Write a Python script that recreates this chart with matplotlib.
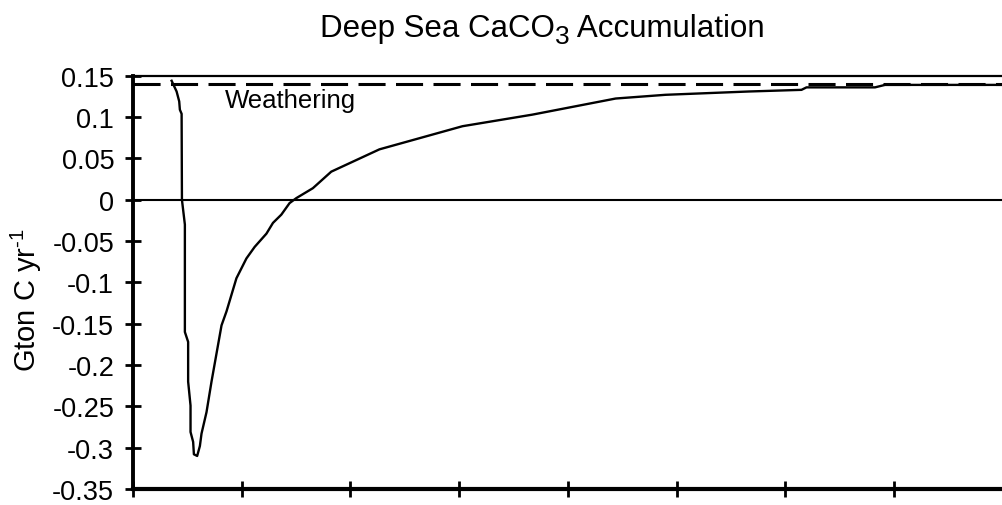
import matplotlib.pyplot as plt
import numpy as np

plt.rcParams['font.family'] = ['Liberation Sans', 'DejaVu Sans']
plt.rcParams['lines.scale_dashes'] = False
plt.rcParams['mathtext.fontset'] = 'custom'
plt.rcParams['mathtext.rm'] = 'Liberation Sans'

# Data (x in tick units, y in Gton C / yr)
time = [0.355, 0.401, 0.425, 0.431, 0.447, 0.450, 0.477, 0.477, 0.507, 0.507,
        0.529, 0.529, 0.553, 0.560, 0.590, 0.615, 0.630, 0.676, 0.722, 0.814,
        0.860, 0.951, 1.043, 1.119, 1.227, 1.287, 1.364, 1.440, 1.502, 1.654,
        1.823, 2.266, 3.030, 3.672, 4.438, 4.896, 5.661, 6.147, 6.193, 6.823,
        6.915, 7.982]
accum = [0.144, 0.131, 0.119, 0.109, 0.104, 0.0, -0.030, -0.160, -0.172, -0.220,
         -0.249, -0.281, -0.293, -0.308, -0.310, -0.298, -0.283, -0.257, -0.220, -0.152,
         -0.135, -0.095, -0.071, -0.057, -0.041, -0.028, -0.018, -0.004, 0.002, 0.014,
         0.034, 0.061, 0.089, 0.103, 0.1225, 0.127, 0.131, 0.133, 0.136, 0.136,
         0.139, 0.139]
weathering = 0.14
xticks = np.arange(0, 9)
yticks = [0.15, 0.1, 0.05, 0, -0.05, -0.1, -0.15, -0.2, -0.25, -0.3, -0.35]
ytick_labels = ['0.15', '0.1', '0.05', '0', '-0.05', '-0.1', '-0.15', '-0.2', '-0.25', '-0.3', '-0.35']

fig = plt.figure(figsize=(10.03, 5.06), dpi=100)
ax = fig.add_axes([133/1003, 1 - 490/506, 1 - 133/1003, (490 - 76.8)/506])

ax.axhline(0, color='black', lw=1.5)
ax.axhline(weathering, color='black', lw=2.2, dashes=(19.5, 7.5))
ax.plot(time, accum, color='black', lw=1.7)
ax.text(0.844, 0.112, 'Weathering', fontsize=18.5, ha='left', va='baseline')

ax.set_xlim(0, 7.982)
ax.set_ylim(-0.35, 0.15)
ax.set_xticks(xticks)
ax.set_xticklabels([])
ax.set_yticks(yticks)
ax.set_yticklabels(ytick_labels, fontsize=19.5)

ax.spines['right'].set_visible(False)
ax.spines['top'].set_linewidth(1.6)
ax.spines['left'].set_linewidth(2.8)
ax.spines['bottom'].set_linewidth(3.0)
ax.tick_params(axis='both', direction='inout', length=11, width=2, pad=8)

# title with a larger dropped subscript, built from pieces
title_y = 1 - 37/506
t1 = fig.text(0.3195, title_y, 'Deep Sea CaCO', fontsize=22.5, ha='left', va='baseline')
fig.canvas.draw()
bb = t1.get_window_extent()
x3 = bb.x1 / fig.bbox.width
t2 = fig.text(x3, title_y - 7/506, '3', fontsize=19, ha='left', va='baseline')
bb2 = t2.get_window_extent(renderer=fig.canvas.get_renderer())
fig.text(bb2.x1 / fig.bbox.width, title_y, ' Accumulation', fontsize=22.5,
         ha='left', va='baseline')

fig.text(0.026, 1 - 300/506, r'Gton C yr$^{\mathrm{\text{-}1}}$', fontsize=21, rotation=90,
         ha='center', va='center')

fig.savefig('out.png', dpi=100)
